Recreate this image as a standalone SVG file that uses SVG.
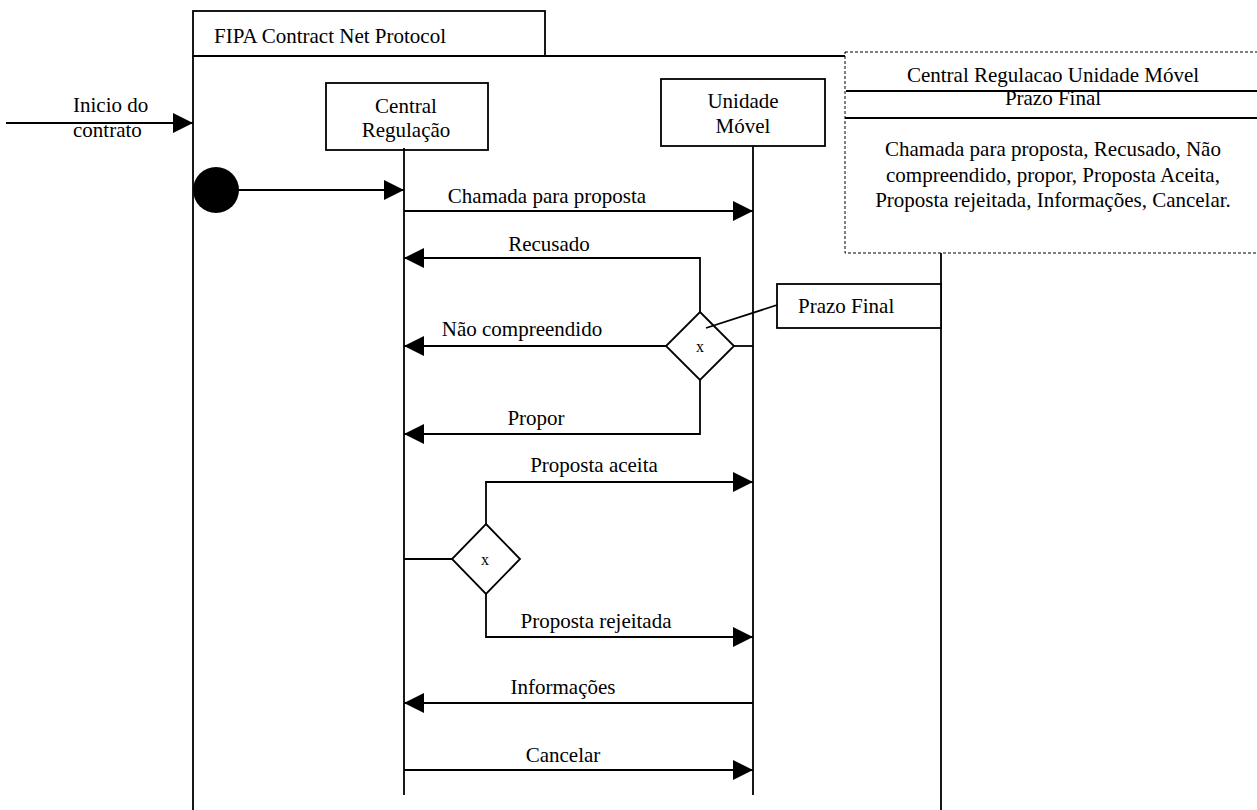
<svg xmlns="http://www.w3.org/2000/svg" width="1257" height="810" viewBox="0 0 1257 810">
<style>
.ln{stroke:#000;stroke-width:1.8;fill:none}
.bx{stroke:#000;stroke-width:1.8;fill:#fff}
.t{font-family:"Liberation Serif","Times New Roman",serif;font-size:21px;fill:#000}
.c{text-anchor:middle}
.x{font-size:16px}
</style>
<defs>
<marker id="ah" markerWidth="20" markerHeight="20" viewBox="0 0 20 20" refX="20" refY="10" orient="auto" markerUnits="userSpaceOnUse">
<path d="M0,0 L20,10 L0,20 Z" fill="#000"/>
</marker>
</defs>
<g id="frame">
<rect class="bx" x="193" y="11" width="352" height="45"/>
<text class="t" x="214" y="43">FIPA Contract Net Protocol</text>
<path class="ln" d="M193,56 L941,56 M193,56 L193,810 M941,56 L941,810"/>
</g>
<g id="legend">
<rect x="845" y="52" width="420" height="201" fill="#fff" stroke="#000" stroke-width="1" stroke-dasharray="3,2"/>
<path class="ln" d="M846,91 L1257,91 M845,118 L1257,118"/>
<text class="t c" x="1053" y="82">Central Regulacao Unidade Móvel</text>
<text class="t c" x="1053" y="105">Prazo Final</text>
<text class="t c" x="1053" y="156">Chamada para proposta, Recusado, Não</text>
<text class="t c" x="1053" y="182">compreendido, propor, Proposta Aceita,</text>
<text class="t c" x="1053" y="207">Proposta rejeitada, Informações, Cancelar.</text>
</g>
<g id="central">
<rect class="bx" x="326" y="83" width="162" height="67"/>
<text class="t c" x="406" y="113">Central</text>
<text class="t c" x="406" y="137">Regulação</text>
</g>
<g id="unidade">
<rect class="bx" x="661" y="79" width="164" height="67"/>
<text class="t c" x="743" y="108">Unidade</text>
<text class="t c" x="743" y="133">Móvel</text>
</g>
<g id="start">
<circle cx="216" cy="190" r="23" fill="#000"/>
</g>
<g id="decision1">
<polygon class="bx" points="700,312 734,346 700,380 666,346"/>
<text class="t c x" x="700" y="352">x</text>
</g>
<g id="decision2">
<polygon class="bx" points="486,524 520,559 486,594 452,559"/>
<text class="t c x" x="485" y="565">x</text>
</g>
<g id="prazo">
<rect class="bx" x="777" y="284" width="164" height="44"/>
<text class="t" x="798" y="313">Prazo Final</text>
</g>
<g id="connectors">
<path class="ln" d="M404,148 L404,795 M753,146 L753,795"/>
<line class="ln" x1="6" y1="123" x2="193" y2="123" marker-end="url(#ah)"/>
<text class="t" x="73" y="112">Inicio do</text>
<text class="t" x="73" y="137">contrato</text>
<line class="ln" x1="239" y1="190" x2="404" y2="190" marker-end="url(#ah)"/>
<line class="ln" x1="404" y1="211" x2="753" y2="211" marker-end="url(#ah)"/>
<text class="t c" x="547" y="203">Chamada para proposta</text>
<path class="ln" d="M700,312 L700,258 L404,258" marker-end="url(#ah)"/>
<text class="t c" x="549" y="251">Recusado</text>
<line class="ln" x1="666" y1="346" x2="404" y2="346" marker-end="url(#ah)"/>
<line class="ln" x1="734" y1="346" x2="753" y2="346"/>
<text class="t c" x="522" y="336">Não compreendido</text>
<path class="ln" d="M700,380 L700,434 L404,434" marker-end="url(#ah)"/>
<text class="t c" x="536" y="425">Propor</text>
<line class="ln" x1="777" y1="305" x2="706" y2="328"/>
<line class="ln" x1="404" y1="559" x2="452" y2="559"/>
<path class="ln" d="M486,524 L486,482 L753,482" marker-end="url(#ah)"/>
<text class="t c" x="594" y="472">Proposta aceita</text>
<path class="ln" d="M486,594 L486,637 L753,637" marker-end="url(#ah)"/>
<text class="t c" x="596" y="628">Proposta rejeitada</text>
<line class="ln" x1="753" y1="703" x2="404" y2="703" marker-end="url(#ah)"/>
<text class="t c" x="563" y="694">Informações</text>
<line class="ln" x1="404" y1="770" x2="753" y2="770" marker-end="url(#ah)"/>
<text class="t c" x="563" y="762">Cancelar</text>
</g>
</svg>
